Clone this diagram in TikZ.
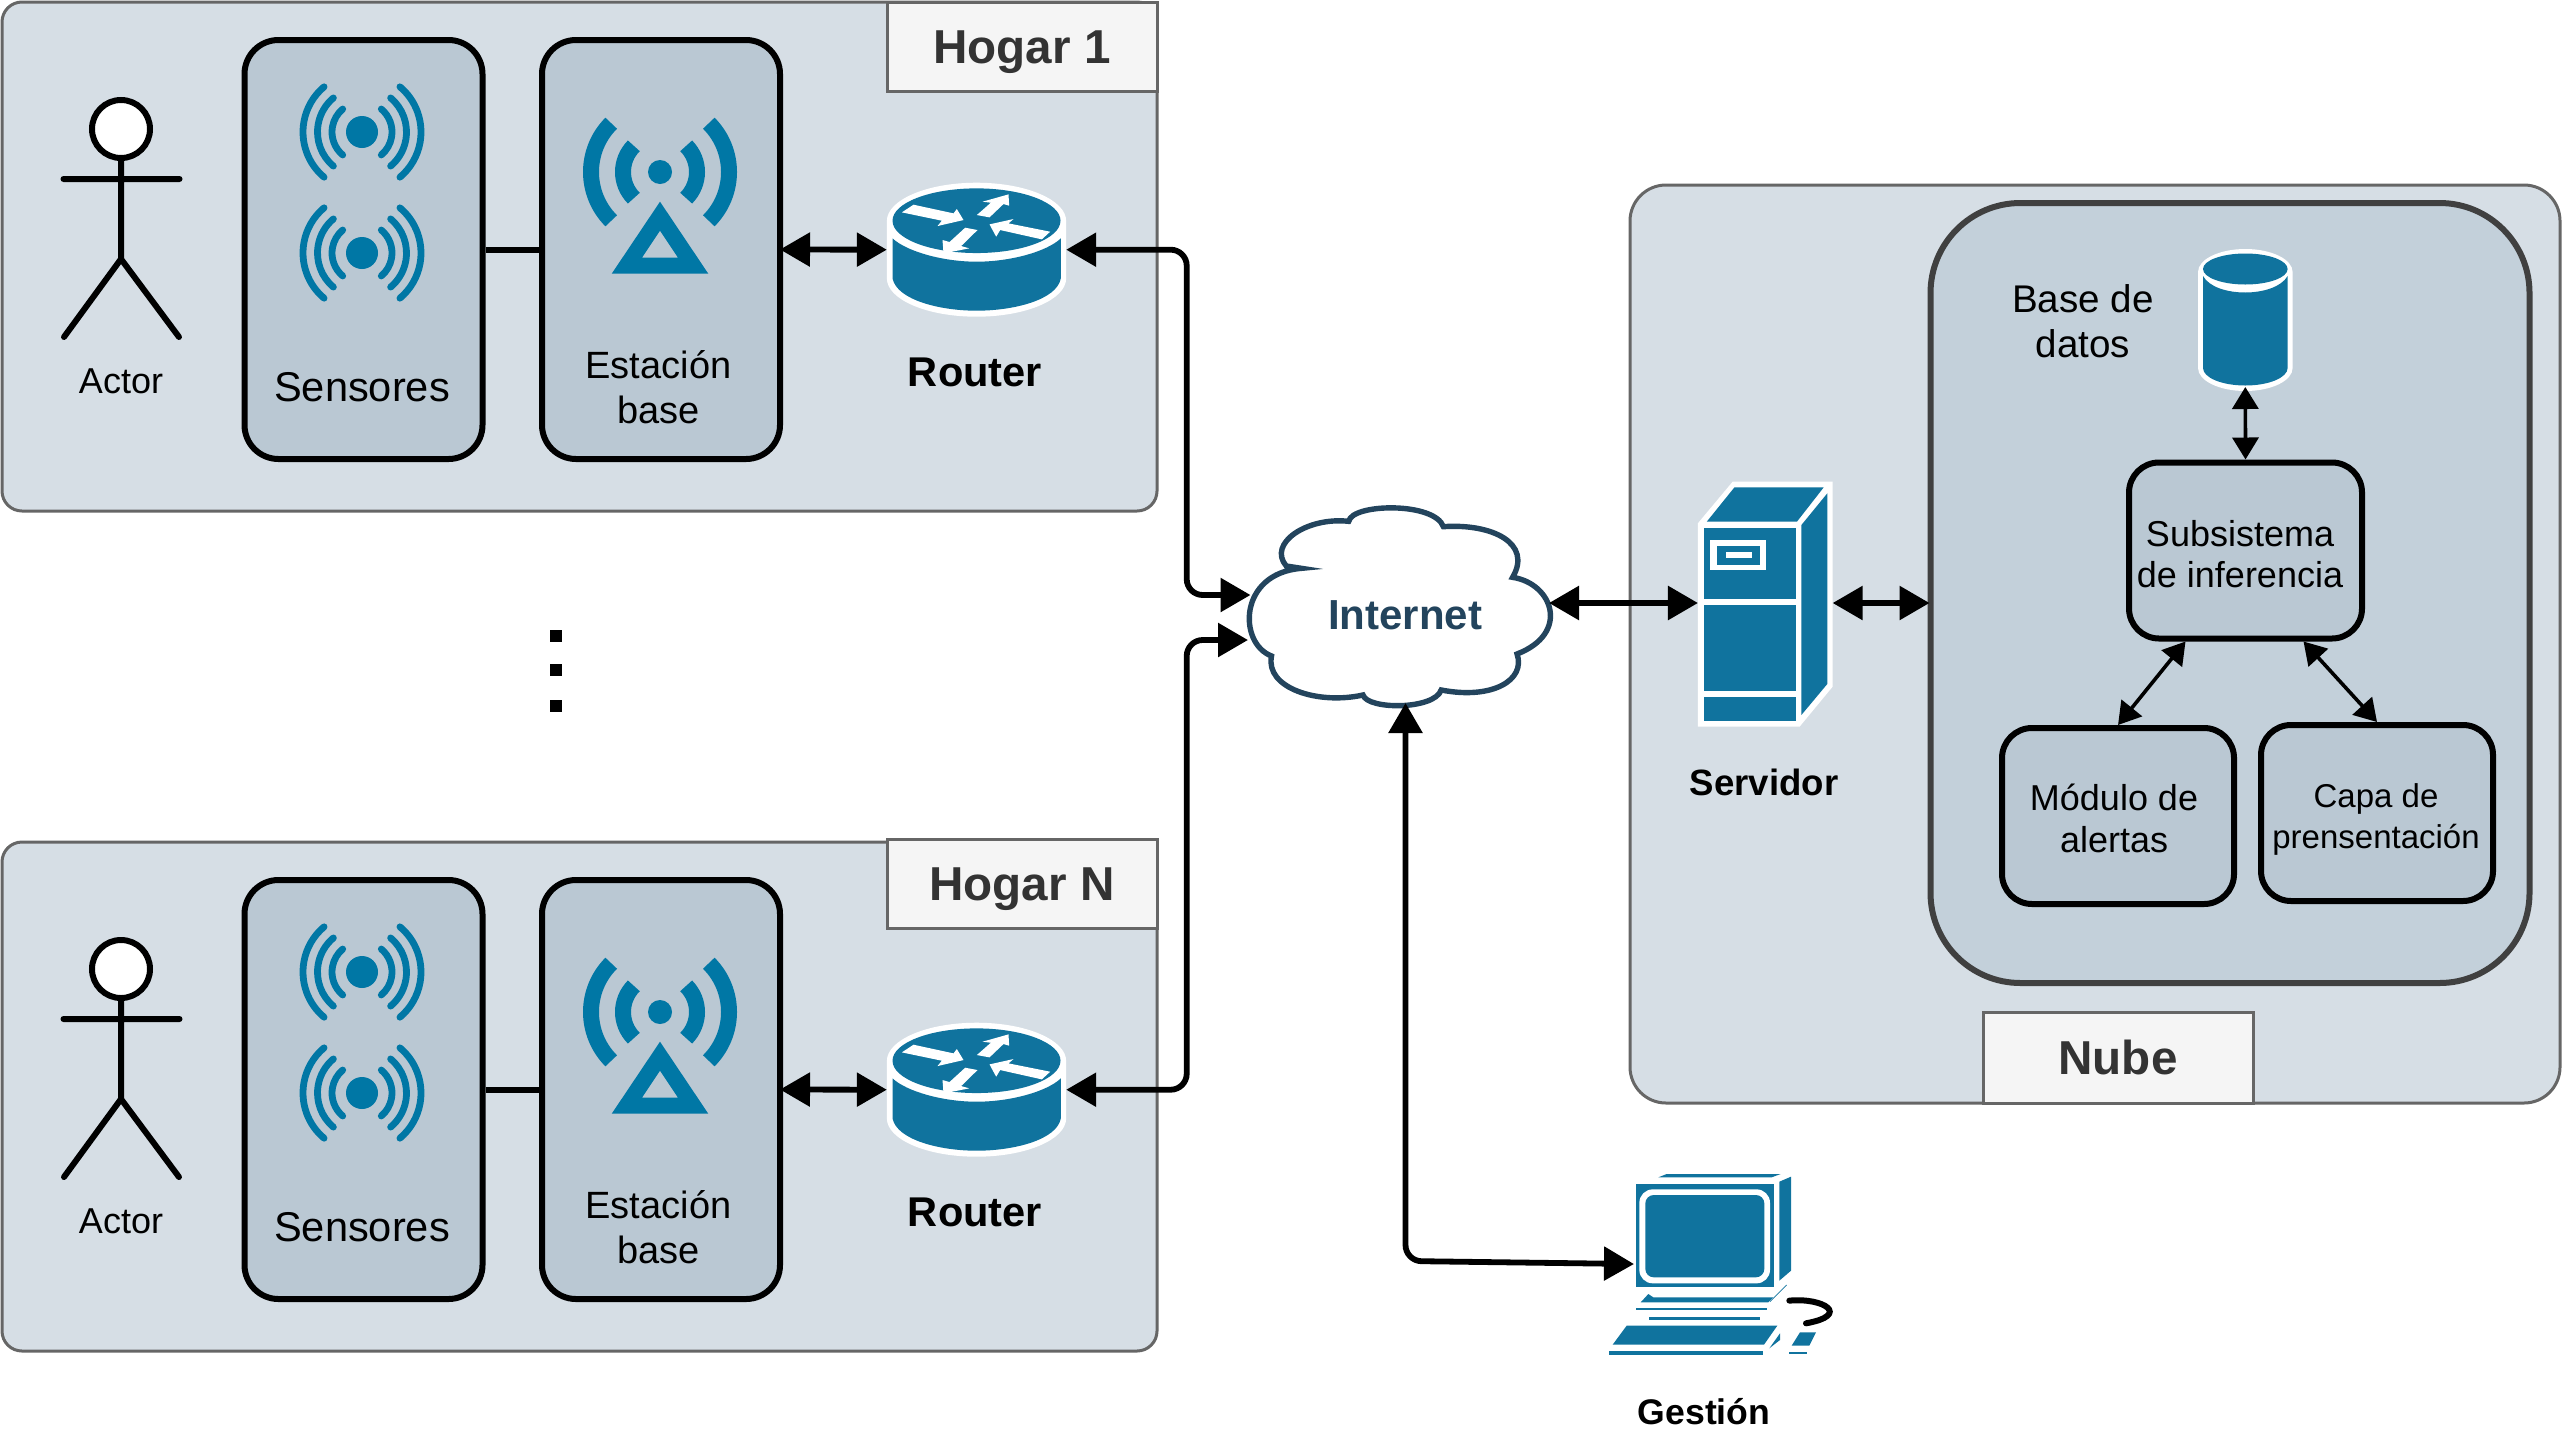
\documentclass[tikz,border=0pt]{standalone}
\usepackage{fontspec}
\setmainfont{Liberation Sans}
\usetikzlibrary{arrows.meta}
\definecolor{panelfill}{HTML}{D6DEE5}
\definecolor{devfill}{HTML}{BAC8D3}
\definecolor{corefill}{HTML}{C3D0DA}
\definecolor{iconblue}{HTML}{10739E}
\definecolor{waveblue}{HTML}{0077A5}
\definecolor{cloudline}{HTML}{23445D}
\definecolor{labelfill}{HTML}{F5F5F5}
\tikzset{panel/.style={draw=black!60, fill=panelfill, line width=1.5pt, rounded corners=10pt, inner sep=0pt},
         tagbox/.style={draw=black!60, fill=labelfill, line width=1.5pt, inner sep=0pt, text=black!80, text height=16.5pt, text depth=0pt, font=\fontsize{23.8}{28}\selectfont\bfseries},
         devbox/.style={draw=black, fill=devfill, line width=3pt, rounded corners=17pt, inner sep=0pt},
         iconbox/.style={inner sep=0pt, outer sep=0pt},
         txt/.style 2 args={inner sep=0pt, align=center, font=\fontsize{#1}{#2}\selectfont},
         boldtxt/.style={inner sep=0pt, align=center, font=\fontsize{#1}{24}\selectfont\bfseries},
         link/.style={line width=2.9pt, rounded corners=8pt, {Triangle[length=15pt,width=16.5pt]}-{Triangle[length=15pt,width=16.5pt]}},
         thinlink/.style={line width=1.8pt, {Triangle[length=11pt,width=13pt]}-{Triangle[length=11pt,width=13pt]}},
         stickman/.style={line width=3pt, line cap=round},
         sensoricon/.pic={
            \fill[waveblue] (0,0) circle (16);
            \foreach \r in {30,44.5,59}{
                \draw[waveblue, line width=3.4pt, line cap=round] (-50:\r) arc[start angle=-50, end angle=50, radius=\r];
                \draw[waveblue, line width=3.4pt, line cap=round] (130:\r) arc[start angle=130, end angle=230, radius=\r];
            }
         },
         towericon/.pic={
            \fill[waveblue] (0,0) circle (12);
            \foreach \r in {37,69}{
                \draw[waveblue, line width=8pt] (-45:\r) arc[start angle=-45, end angle=45, radius=\r];
                \draw[waveblue, line width=8pt] (135:\r) arc[start angle=135, end angle=225, radius=\r];
            }
            \fill[waveblue, even odd rule] (0,29.7) -- (-48.3,101.7) -- (48.3,101.7) -- cycle
                 (0,58.7) -- (-18,85.7) -- (18,85.7) -- cycle;
         },
         routericon/.pic={
            \begin{scope}[scale=0.3333, shift={(-349,-269)}]
            \fill[white] (80,183) arc[start angle=180, end angle=360, x radius=269, y radius=115] -- (618,355)
                 arc[start angle=0, end angle=180, x radius=269, y radius=115] -- cycle;
            \fill[iconblue] (349,182) ellipse [x radius=252, y radius=97];
            \fill[iconblue] (97,235) .. controls (140,275) and (250,305) .. (349,305) .. controls (450,305) and (560,275) .. (602,235)
                 -- (602,355) .. controls (590,420) and (460,452) .. (349,452) .. controls (240,452) and (110,420) .. (97,355) -- cycle;
            \fill[white] (125,157) -- (160,134) -- (280,160) -- (290,147) -- (310,180) -- (232,198) -- (245,182) -- cycle;
            \fill[white] (350,165) -- (392,128) -- (367,125) -- (445,103) -- (447,137) -- (430,132) -- (388,172) -- cycle;
            \fill[white] (388,193) -- (460,177) -- (445,190) -- (570,215) -- (545,238) -- (420,210) -- (408,230) -- cycle;
            \fill[white] (315,203) -- (352,210) -- (303,258) -- (327,265) -- (250,280) -- (247,240) -- (268,246) -- cycle;
            \end{scope}
         }}

\begin{document}
\begin{tikzpicture}[x=0.5pt, y=-0.5pt]
    \useasboundingbox (0,0) rectangle (2562,1446);

    \foreach \h/\dy/\lab/\tagy in {1/0/Hogar 1/46.5, N/840/Hogar N/44}{
        \begin{scope}[shift={(0,\dy)}]
            \node[panel, minimum width=577.5pt, minimum height=254.5pt] (panel\h) at (579.5,256.5) {};
            \node[tagbox, minimum width=135pt, minimum height=44.5pt] (tag\h) at (1022,\tagy) {\lab};

            \node[devbox, minimum width=119pt, minimum height=209.5pt] (sensores\h) at (363.5,249.5) {};
            \node[devbox, minimum width=119pt, minimum height=209.5pt] (estacion\h) at (661,249.5) {};
            \draw[line width=3pt] (sensores\h) -- (estacion\h);

            \node[iconbox, minimum width=60pt, minimum height=61pt] (head\h) at (121,129) {};
            \coordinate (neck\h) at (121,160);
            \coordinate (hip\h) at (121,259);
            \coordinate (armL\h) at (63.5,179);
            \coordinate (armR\h) at (179.5,179);
            \coordinate (footL\h) at (64,337);
            \coordinate (footR\h) at (179,337);
            \draw[stickman] (neck\h) -- (hip\h) (armL\h) -- (armR\h) (footL\h) -- (hip\h) -- (footR\h);
            \draw[line width=3pt, fill=white] (121,129) circle (29);
            \node[txt={18}{22}] (actor\h) at (121,381) {Actor};

            \pic at (362,132) {sensoricon};
            \pic at (362,253) {sensoricon};
            \pic at (660,172) {towericon};
            \node[txt={20.8}{24}] (sensorestxt\h) at (362,387) {Sensores};
            \node[txt={19}{22.5}] (estaciontxt\h) at (658.5,387) {Estación\\base};

            \node[iconbox, minimum width=89.7pt, minimum height=67pt] (router\h) at (976.5,249.7) {};
            \pic at (976.5,249.7) {routericon};
            \node[boldtxt=20.8] (routertxt\h) at (975,372) {Router};

            \draw[link] ([xshift=-1.5pt]estacion\h.east) -- (router\h.west);
        \end{scope}
    }

    \foreach \i/\ypos in {1/636, 2/670, 3/706}{
        \node[iconbox, fill=black, minimum size=6pt] (dot\i) at (555.5,\ypos) {};
    }

    \node[panel, rounded corners=18pt, minimum width=465pt, minimum height=459pt] (nube) at (2095,644) {};
    \node[tagbox, minimum width=135pt, minimum height=45.5pt] (nubetag) at (2118,1057.5) {Nube};
    \node[draw=black!75, fill=corefill, line width=3pt, rounded corners=45pt, inner sep=0pt, minimum width=299.5pt, minimum height=390pt] (nucleo) at (2230,593) {};

    \begin{scope}[shift={(1180,480)}, xscale=0.4464, yscale=0.3333]
        \draw[draw=cloudline, fill=white, line width=2.7pt] (378,124) .. controls (385,70) and (570,65) .. (590,140)
             .. controls (700,130) and (790,190) .. (745,292)
             .. controls (835,310) and (875,460) .. (755,522)
             .. controls (775,600) and (700,660) .. (585,630)
             .. controls (570,690) and (420,690) .. (410,645)
             .. controls (310,675) and (190,625) .. (205,528)
             .. controls (130,490) and (130,280) .. (272,265)
             -- (238,258) .. controls (195,190) and (285,110) .. (378,124) -- cycle;
    \end{scope}
    \node[boldtxt=21, text=cloudline] (internet) at (1405,615) {Internet};
    \coordinate (cloudW1) at (1250.5,595);
    \coordinate (cloudW2) at (1248,640);
    \coordinate (cloudE) at (1549,603);
    \coordinate (cloudS) at (1405.5,703);

    \node[iconbox, minimum width=67.35pt, minimum height=122pt] (server) at (1765.3,603) {};
    \begin{scope}[shift={(1180,480)}, xscale=0.4464, yscale=0.3333]
        \fill[white] (1160,130) -- (1238,5) -- (1462,5) -- (1462,620) -- (1388,740) -- (1160,740) -- cycle;
        \fill[iconblue] (1180,125) -- (1242,22) -- (1442,22) -- (1382,125) -- cycle;
        \fill[iconblue] (1392,135) -- (1450,40) -- (1450,612) -- (1392,705) -- cycle;
        \fill[iconblue] (1173,143) rectangle (1380,357);
        \fill[iconblue] (1173,375) rectangle (1380,632);
        \fill[iconblue] (1173,650) rectangle (1380,722);
        \fill[white] (1188,180) rectangle (1313,270);
        \fill[iconblue] (1202,198) rectangle (1300,255);
        \fill[white] (1222,216) rectangle (1282,234);
    \end{scope}
    \node[boldtxt=18.3] (servertxt) at (1764,782) {Servidor};

    \node[iconbox, minimum width=47.3pt, minimum height=71pt] (db) at (2245.3,320) {};
    \fill[white] (2198,272) arc[start angle=180, end angle=360, x radius=47.3, y radius=23] -- (2292.6,368)
         arc[start angle=0, end angle=180, x radius=47.3, y radius=23] -- cycle;
    \fill[iconblue] (2245.3,269) ellipse [x radius=42.3, y radius=15.5];
    \fill[iconblue] (2203,276) .. controls (2215,298) and (2275,298) .. (2287.6,276) -- (2287.6,368)
         arc[start angle=0, end angle=180, x radius=42.3, y radius=17.5] -- cycle;
    \node[txt={19.3}{22.5}] (dbtxt) at (2083,321) {Base de\\datos};

    \node[devbox, rounded corners=15pt, minimum width=116.5pt, minimum height=88pt] (subsis) at (2245.5,550.5) {};
    \node[devbox, rounded corners=15pt, minimum width=116pt, minimum height=88pt] (modulo) at (2118,816) {};
    \node[devbox, rounded corners=15pt, minimum width=116pt, minimum height=88pt] (capa) at (2377,813) {};
    \node[txt={18}{20.5}] (subsistxt) at (2240,554) {Subsistema\\de inferencia};
    \node[txt={18}{21}] (modulotxt) at (2114,818.5) {Módulo de\\alertas};
    \node[txt={16.5}{20.5}] (capatxt) at (2376,819) {Capa de\\prensentación};

    \node[iconbox, minimum width=70pt, minimum height=70pt] (pc) at (1704,1264) {};
    \begin{scope}[shift={(1560,1140)}, scale=0.3333]
        \fill[iconblue] (228,132) rectangle (642,440);
        \fill[white, rounded corners=6.7pt] (238,148) rectangle (630,430);
        \fill[iconblue, rounded corners=4.2pt] (256,165) rectangle (613,412);
        \fill[iconblue] (295,112) -- (320,102) -- (662,102) -- (635,112) -- cycle;
        \fill[iconblue] (658,125) -- (693,110) -- (693,392) -- (658,422) -- cycle;
        \fill[iconblue] (242,487) -- (265,462) -- (280,472) -- (640,472) -- (625,487) -- cycle;
        \fill[iconblue] (228,505) rectangle (622,510);
        \fill[iconblue] (266,530) rectangle (600,540);
        \fill[iconblue] (158,614) -- (200,557) -- (652,557) -- (612,614) -- cycle;
        \fill[iconblue] (148,633) rectangle (608,644);
        \fill[iconblue] (628,625) -- (660,580) -- (660,600) -- cycle;
        \fill[iconblue] (695,617) -- (720,577) -- (768,577) -- (748,617) -- cycle;
        \fill[iconblue] (688,637) rectangle (740,642);
        \draw[iconblue, line width=0.4pt] (630,485) -- (680,435);
        \draw[black, line width=3pt, line cap=round] (688,482) .. controls (790,472) and (875,525) .. (738,550);
    \end{scope}
    \node[boldtxt=17.8] (pctxt) at (1704,1412) {Gestión};

    \draw[link] (router1.east) -- (1186.7,249.7) -- (1186.7,595) -- (cloudW1);
    \draw[link] (routerN.east) -- (1186.7,1089.7) -- (1186.7,640) -- (cloudW2);
    \draw[link] (cloudE) -- (server.west);
    \draw[link] (cloudS) -- (1405.5,1261) -- (pc.west);
    \draw[link] (server.east) -- ([xshift=1pt]server.east -| nucleo.west);

    \draw[thinlink] ([yshift=2pt]db.south) -- (subsis.north);
    \draw[thinlink] ([xshift=-30pt]subsis.south) -- (modulo.north);
    \draw[thinlink] ([xshift=29pt]subsis.south) -- (capa.north);
\end{tikzpicture}
\end{document}
